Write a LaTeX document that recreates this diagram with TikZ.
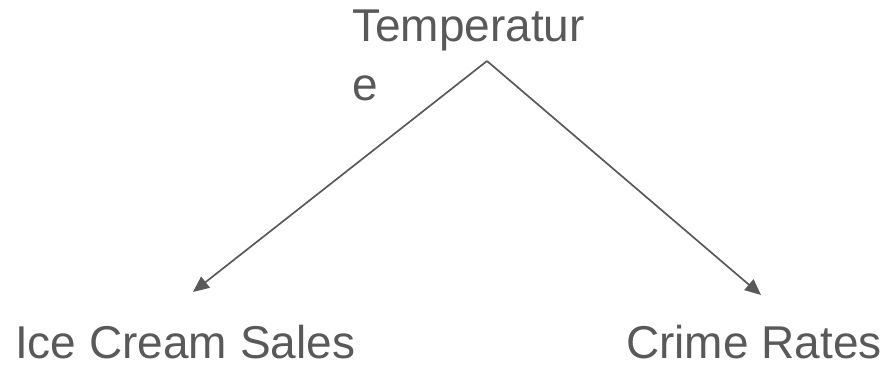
\documentclass[tikz,border=0pt]{standalone}
\usepackage{fontspec}
\setmainfont{Liberation Sans}
\usetikzlibrary{arrows.meta}
\definecolor{labelgray}{HTML}{595959}
\tikzset{
  varname/.style={text=labelgray, inner sep=0pt, font=\fontsize{46}{59}\selectfont},
  causes/.style={line width=1.7pt, draw=labelgray, -{Triangle[length=16pt,width=14pt]}}
}

\begin{document}
\begin{tikzpicture}[x=1pt,y=1pt]
\useasboundingbox (0,0) rectangle (895,-366);

\node [varname, anchor=north west, align=left] (temp) at (352,-10) {Temperatur\\e};
\node [varname, anchor=base west] (ice) at (15,-359) {Ice Cream Sales};
\node [varname, anchor=base west] (crime) at (626,-359) {Crime Rates};

\coordinate (apex) at (487,-61);
\coordinate (icetip) at (193,-292);
\coordinate (crimetip) at (761,-295);

\draw [causes] (apex) -- (icetip);
\draw [causes] (apex) -- (crimetip);
\end{tikzpicture}
\end{document}
